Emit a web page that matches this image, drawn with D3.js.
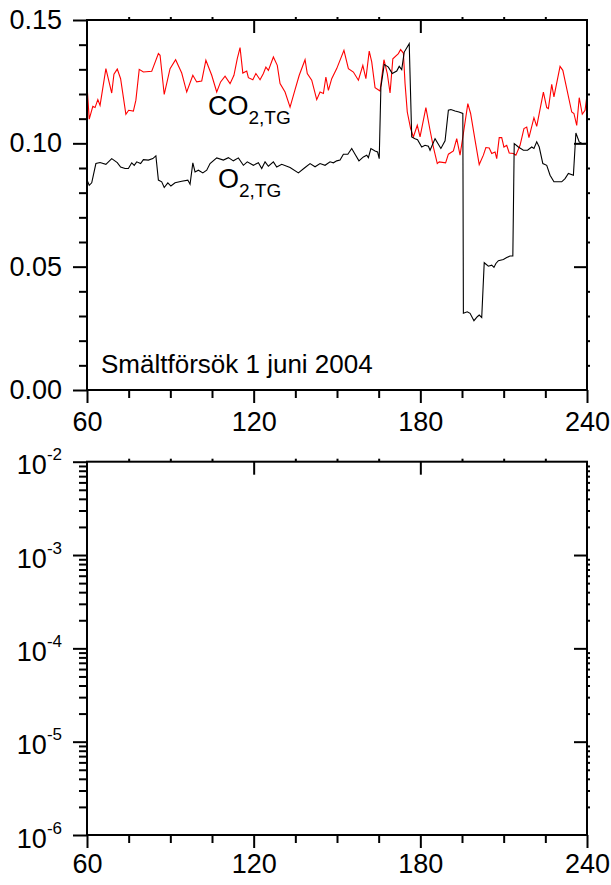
<!DOCTYPE html>
<html>
<head>
<meta charset="utf-8">
<script src="https://cdn.jsdelivr.net/npm/d3@7"></script>
<style>
  html, body { margin: 0; padding: 0; background: #ffffff; }
  svg { display: block; font-family: "Liberation Sans", Arial, sans-serif; }
</style>
</head>
<body>
<div id="chart"></div>
<script>
// Time axis (minutes) and tick values
const xMajorTicks = [60, 120, 180, 240];
const xMinorTicks = [75, 90, 105, 135, 150, 165, 195, 210, 225];
const yMajorTicks = [0.00, 0.05, 0.10, 0.15];
const yMinorTicks = [0.01, 0.02, 0.03, 0.04, 0.06, 0.07, 0.08, 0.09, 0.11, 0.12, 0.13, 0.14];
const logExponents = [-6, -5, -4, -3, -2];

// CO2,TG (red)
const co2Time = [60.0, 60.8, 62.1, 62.9, 63.9, 64.7, 66.8, 68.9, 69.7, 70.9, 72.1, 74.0, 75.0, 76.7, 77.6, 78.8,
  80.3, 83.3, 84.1, 85.7, 86.3, 87.8, 89.9, 91.9, 94.1, 95.9, 98.1, 99.5, 101.3, 102.8, 104.9, 106.7,
  108.1, 109.7, 111.5, 112.9, 114.1, 115.1, 116.1, 117.5, 118.1, 119.7, 120.8, 122.3, 123.5, 124.4, 125.3,
  127.1, 128.5, 129.5, 131.3, 133.1, 134.9, 136.4, 138.5, 139.3, 140.9, 142.7, 143.9, 145.1, 146.0, 146.9,
  148.1, 149.9, 152.5, 154.1, 155.9, 157.7, 159.3, 160.4, 161.6, 162.5, 163.7, 165.5, 166.9, 168.1, 169.1,
  170.1, 172.1, 172.9, 173.9, 174.5, 175.3, 176.5, 177.5, 178.9, 179.9, 182.0, 183.5, 184.7, 186.1, 186.8,
  189.1, 190.1, 191.9, 193.1, 194.3, 195.5, 197.1, 198.1, 199.7, 201.2, 202.7, 203.6, 204.8, 205.7, 206.9,
  207.5, 208.4, 209.3, 210.1, 211.1, 212.0, 213.5, 214.4, 215.9, 217.3, 218.3, 219.1, 220.9, 221.9, 224.3,
  225.5, 226.1, 227.3, 228.1, 230.3, 231.3, 234.5, 235.3, 236.3, 237.2, 238.3, 239.3, 240.0];
const co2Value = [0.1236, 0.1098, 0.1150, 0.1145, 0.1177, 0.1154, 0.1303, 0.1204, 0.1280, 0.1301, 0.1262, 0.1118, 0.1134, 0.1131, 0.1175, 0.1300,
  0.1289, 0.1292, 0.1316, 0.1364, 0.1357, 0.1198, 0.1303, 0.1339, 0.1285, 0.1208, 0.1276, 0.1249, 0.1253, 0.1337, 0.1276, 0.1208,
  0.1249, 0.1272, 0.1242, 0.1276, 0.1343, 0.1388, 0.1285, 0.1293, 0.1266, 0.1258, 0.1283, 0.1258, 0.1283, 0.1309, 0.1296,
  0.1350, 0.1316, 0.1242, 0.1208, 0.1147, 0.1218, 0.1276, 0.1339, 0.1283, 0.1256, 0.1177, 0.1208, 0.1202, 0.1269, 0.1215,
  0.1262, 0.1303, 0.1377, 0.1303, 0.1289, 0.1256, 0.1316, 0.1262, 0.1374, 0.1330, 0.1226, 0.1212, 0.1339, 0.1283, 0.1204,
  0.1343, 0.1364, 0.1380, 0.1366, 0.1242, 0.1127, 0.1060, 0.1026, 0.1073, 0.1026, 0.1145, 0.1053, 0.0985, 0.0918, 0.0925,
  0.0921, 0.0956, 0.0969, 0.1019, 0.0952, 0.1040, 0.1161, 0.1121, 0.1013, 0.0914, 0.0952, 0.0983, 0.0981, 0.0959, 0.0965,
  0.0938, 0.1023, 0.1023, 0.0985, 0.0992, 0.0961, 0.0959, 0.0952, 0.0992, 0.1060, 0.1066, 0.1023, 0.1104, 0.1069, 0.1208,
  0.1145, 0.1141, 0.1239, 0.1188, 0.1312, 0.1296, 0.1127, 0.1121, 0.1073, 0.1185, 0.1118, 0.1134, 0.1195];

// O2,TG (black)
const o2Time = [60.0, 60.8, 61.7, 63.2, 64.7, 66.8, 68.9, 70.9, 72.1, 73.7, 74.9, 76.1, 77.0, 77.9, 79.3, 80.3,
  82.1, 83.7, 84.8, 85.7, 86.9, 87.8, 89.1, 90.2, 91.7, 94.1, 96.3, 97.1, 98.1, 98.9, 100.1, 101.7, 103.1,
  104.3, 106.7, 109.1, 110.9, 112.7, 114.5, 116.3, 117.7, 119.9, 121.7, 122.9, 124.1, 125.3, 127.1, 128.3,
  130.1, 133.1, 136.1, 138.5, 140.3, 142.1, 143.9, 145.7, 147.5, 148.7, 149.9, 151.1, 152.3, 153.9, 155.3,
  156.5, 157.9, 159.5, 160.7, 161.3, 162.2, 163.7, 164.6, 165.2, 165.8, 167.0, 168.5, 169.9, 171.5, 172.4,
  173.3, 174.2, 176.0, 176.9, 178.1, 179.0, 180.5, 181.7, 182.9, 183.5, 185.3, 186.7, 187.4, 188.9, 190.1,
  191.0, 192.5, 193.9, 195.3, 195.5, 196.9, 197.9, 199.3, 200.5, 201.2, 202.1, 203.0, 204.5, 205.7, 206.5,
  207.2, 208.1, 209.9, 211.1, 212.3, 213.3, 213.8, 215.3, 217.1, 218.6, 220.1, 220.9, 221.9, 222.8, 224.1,
  225.5, 226.7, 228.1, 230.9, 232.1, 233.3, 235.1, 236.0, 237.2, 238.2, 240.0];
const o2Value = [0.0851, 0.0830, 0.0840, 0.0918, 0.0922, 0.0915, 0.0938, 0.0922, 0.0904, 0.0898, 0.0898, 0.0921, 0.0911, 0.0925, 0.0918, 0.0934,
  0.0932, 0.0938, 0.0949, 0.0851, 0.0844, 0.0821, 0.0840, 0.0827, 0.0840, 0.0846, 0.0851, 0.0834, 0.0921, 0.0884, 0.0891, 0.0880, 0.0891,
  0.0918, 0.0941, 0.0932, 0.0942, 0.0929, 0.0941, 0.0911, 0.0925, 0.0911, 0.0921, 0.0898, 0.0925, 0.0907, 0.0925, 0.0904,
  0.0915, 0.0902, 0.0880, 0.0902, 0.0918, 0.0905, 0.0918, 0.0911, 0.0925, 0.0921, 0.0929, 0.0932, 0.0956, 0.0956, 0.0979,
  0.0956, 0.0929, 0.0945, 0.0952, 0.0942, 0.0979, 0.0969, 0.0965, 0.0938, 0.1228, 0.1320, 0.1309, 0.1283, 0.1293, 0.1312,
  0.1299, 0.1370, 0.1404, 0.1026, 0.1019, 0.1015, 0.0985, 0.0992, 0.0988, 0.0972, 0.1019, 0.0992, 0.0979, 0.1010, 0.1134,
  0.1137, 0.1131, 0.1127, 0.1121, 0.0311, 0.0317, 0.0311, 0.0281, 0.0297, 0.0304, 0.0294, 0.0516, 0.0502, 0.0506, 0.0497,
  0.0513, 0.0524, 0.0529, 0.0537, 0.0543, 0.0543, 0.0999, 0.0985, 0.0972, 0.0972, 0.0985, 0.0979, 0.1006, 0.0985, 0.0918,
  0.0911, 0.0871, 0.0844, 0.0844, 0.0857, 0.0878, 0.0871, 0.1042, 0.1006, 0.0999, 0.1000];

const width = 611;
const height = 885;
const left = 87, right = 587;
const top1 = 20, bottom1 = 390;
const top2 = 461.7, bottom2 = 835;
const fontSize = 27;

const svg = d3.select("#chart").append("svg")
  .attr("width", width)
  .attr("height", height)
  .attr("viewBox", `0 0 ${width} ${height}`);

const x = d3.scaleLinear().domain([60, 240]).range([left, right]);
const yLin = d3.scaleLinear().domain([0, 0.15]).range([bottom1, top1]);
const yLog = d3.scaleLog().domain([1e-6, 1e-2]).range([bottom2, top2]);

const logMinor = [];
logExponents.slice(0, -1).forEach(e => {
  for (let k = 2; k <= 9; k++) logMinor.push(k * Math.pow(10, e));
});

function styleAxis(g) {
  g.select(".domain").remove();
  g.selectAll(".tick line").attr("stroke", "#000").attr("stroke-width", 2);
  g.selectAll(".tick text").attr("fill", "#000").attr("font-size", fontSize)
    .attr("font-family", "'Liberation Sans', Arial, sans-serif");
}

// draw the ticks and frame around a panel
function drawFrame(yScale, yTop, yBottom, majorY, minorY, labelPad) {
  // bottom axis
  svg.append("g").attr("transform", `translate(0,${yBottom})`)
    .call(d3.axisBottom(x).tickValues(xMinorTicks).tickSize(8).tickFormat(""))
    .call(styleAxis);
  svg.append("g").attr("transform", `translate(0,${yBottom})`)
    .call(d3.axisBottom(x).tickValues(xMajorTicks).tickSize(13).tickPadding(labelPad).tickFormat(d3.format("d")))
    .call(styleAxis);

  // top axis: major ticks inward, minor ones tiny outward
  svg.append("g").attr("transform", `translate(0,${yTop})`)
    .call(d3.axisTop(x).tickValues(xMinorTicks).tickSize(3).tickFormat(""))
    .call(styleAxis);
  svg.append("g").attr("transform", `translate(0,${yTop})`)
    .call(d3.axisBottom(x).tickValues(xMajorTicks.slice(1, -1)).tickSize(13).tickFormat(""))
    .call(styleAxis);

  // left axis
  svg.append("g").attr("transform", `translate(${left},0)`)
    .call(d3.axisLeft(yScale).tickValues(minorY).tickSize(8).tickFormat(""))
    .call(styleAxis);

  // right axis: major inward, minor tiny outward
  svg.append("g").attr("transform", `translate(${right},0)`)
    .call(d3.axisRight(yScale).tickValues(minorY).tickSize(3).tickFormat(""))
    .call(styleAxis);
  svg.append("g").attr("transform", `translate(${right},0)`)
    .call(d3.axisLeft(yScale).tickValues(majorY.slice(1, -1)).tickSize(13).tickFormat(""))
    .call(styleAxis);

  svg.append("rect")
    .attr("x", left).attr("y", yTop)
    .attr("width", right - left).attr("height", yBottom - yTop)
    .attr("fill", "none").attr("stroke", "#000").attr("stroke-width", 2);
}

// ---- top panel ----
svg.append("clipPath").attr("id", "clip1").append("rect")
  .attr("x", left - 3).attr("y", top1).attr("width", right - left + 4).attr("height", bottom1 - top1);

const line = d3.line().x(d => x(d[0])).y(d => yLin(d[1]));

svg.append("path")
  .datum(co2Time.map((t, i) => [t, co2Value[i]]))
  .attr("fill", "none").attr("stroke", "#ff0000").attr("stroke-width", 1.1)
  .attr("clip-path", "url(#clip1)")
  .attr("d", line);

svg.append("path")
  .datum(o2Time.map((t, i) => [t, o2Value[i]]))
  .attr("fill", "none").attr("stroke", "#000").attr("stroke-width", 1.1)
  .attr("clip-path", "url(#clip1)")
  .attr("d", line);

drawFrame(yLin, top1, bottom1, yMajorTicks, yMinorTicks, 9);

svg.append("g").attr("transform", `translate(${left},0)`)
  .call(d3.axisLeft(yLin).tickValues(yMajorTicks).tickSize(14).tickPadding(11).tickFormat(d3.format(".2f")))
  .call(styleAxis);

// series labels
const co2Label = svg.append("text").attr("x", 208).attr("y", 115)
  .attr("font-size", fontSize).attr("fill", "#000");
co2Label.append("tspan").text("CO");
co2Label.append("tspan").attr("font-size", 19).attr("dy", 9).text("2,TG");

const o2Label = svg.append("text").attr("x", 218).attr("y", 188)
  .attr("font-size", fontSize).attr("fill", "#000");
o2Label.append("tspan").text("O");
o2Label.append("tspan").attr("font-size", 19).attr("dy", 9).text("2,TG");

svg.append("text").attr("x", 101).attr("y", 373)
  .attr("font-size", 26).attr("fill", "#000")
  .text("Smältförsök 1 juni 2004");

// ---- bottom panel (log, empty) ----
const logMajor = logExponents.map(e => Math.pow(10, e));
drawFrame(yLog, top2, bottom2, logMajor, logMinor, 6);

const logAxis = svg.append("g").attr("transform", `translate(${left},0)`)
  .call(d3.axisLeft(yLog).tickValues(logMajor).tickSize(14).tickPadding(11).tickFormat(""))
  .call(styleAxis);

logAxis.selectAll(".tick text")
  .attr("dy", 12)
  .each(function(d) {
    const t = d3.select(this);
    t.append("tspan").text("10");
    t.append("tspan").attr("font-size", 17).attr("dy", -14).text(Math.round(Math.log10(d)));
  });
</script>
</body>
</html>
